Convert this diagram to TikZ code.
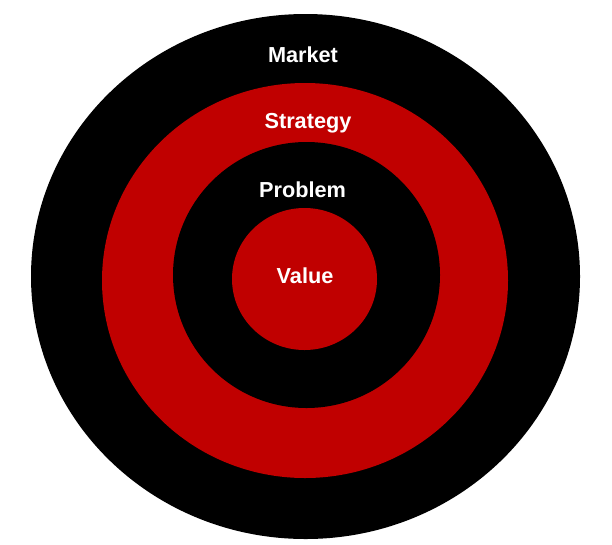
\documentclass[tikz,border=0pt]{standalone}
\usepackage{fontspec}
\setmainfont{Liberation Sans}
\definecolor{ringred}{RGB}{192,0,0}
\begin{document}
\begin{tikzpicture}[x=1pt,y=-1pt,
  lbl/.style={text=white,font=\fontsize{21.7}{24}\selectfont\bfseries,inner sep=0pt,anchor=center}]
\useasboundingbox (0,0) rectangle (612,544);
\fill[black] (305.5,276.5) ellipse [x radius=274.5, y radius=262.5];
\fill[ringred] (305,280.5) ellipse [x radius=203, y radius=197.5];
\fill[black] (306.5,275) ellipse [x radius=133.5, y radius=133];
\fill[ringred] (304.5,279) ellipse [x radius=72.5, y radius=71];
\node[lbl] (market) at (303,55) {Market};
\node[lbl] (strategy) at (308,123) {Strategy};
\node[lbl] (problem) at (302.5,190) {Problem};
\node[lbl] (value) at (305,276) {Value};
\end{tikzpicture}
\end{document}
